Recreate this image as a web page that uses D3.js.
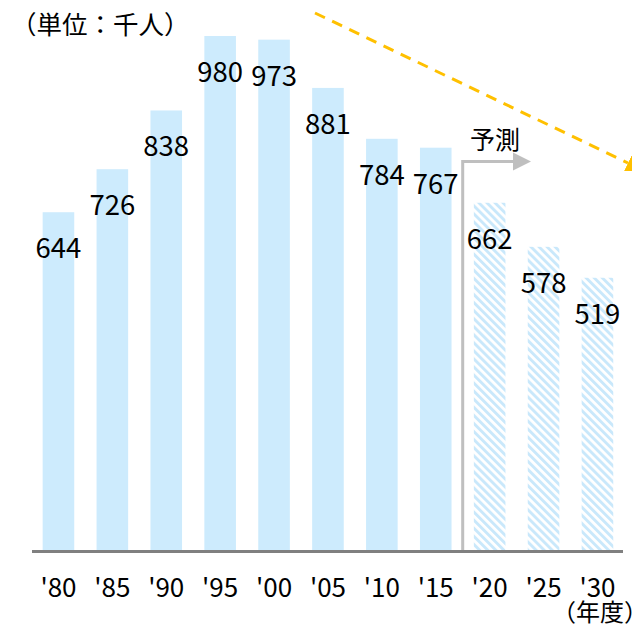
<!DOCTYPE html>
<html>
<head>
<meta charset="utf-8">
<script src="https://cdn.jsdelivr.net/npm/d3@7"></script>
<style>
  html, body { margin: 0; padding: 0; background: #fff; }
  svg { display: block; font-family: "Noto Sans CJK JP", "Noto Sans", sans-serif; }
</style>
</head>
<body>
<svg id="chart" width="632" height="626"></svg>
<script>
const categories = ["'80", "'85", "'90", "'95", "'00", "'05", "'10", "'15", "'20", "'25", "'30"];
const values = [644, 726, 838, 980, 973, 881, 784, 767, 662, 578, 519];
const forecast = [false, false, false, false, false, false, false, false, true, true, true];
const unitLabel = "（単位：千人）";
const yearLabel = "（年度）";
const forecastLabel = "予測";

const svg = d3.select("#chart");

const x = d3.scaleBand().domain(categories).range([31.5, 624.4]).paddingInner(0.414).paddingOuter(0.207);
const y = d3.scaleLinear().domain([0, 1000]).range([550, 25.5]);

// hatch pattern
const defs = svg.append("defs");
const pat = defs.append("pattern")
  .attr("id", "hatch").attr("patternUnits", "userSpaceOnUse")
  .attr("width", 5.7).attr("height", 5.7)
  .attr("patternTransform", "rotate(-45)");
pat.append("rect").attr("width", 5.7).attr("height", 5.7).attr("fill", "#ffffff");
pat.append("rect").attr("width", 2.9).attr("height", 5.7).attr("fill", "#c9e8fb");

defs.append("marker").attr("id", "orangeHead")
  .attr("viewBox", "0 0 10 10").attr("refX", 0).attr("refY", 5)
  .attr("markerWidth", 6).attr("markerHeight", 6).attr("markerUnits", "strokeWidth")
  .attr("orient", "auto")
  .append("path").attr("d", "M0,0 L10,5 L0,10 Z").attr("fill", "#ffc000");

// bars
svg.append("g").selectAll("rect").data(categories).join("rect")
  .attr("x", d => x(d))
  .attr("y", (d, i) => y(values[i]))
  .attr("width", x.bandwidth())
  .attr("height", (d, i) => y(0) - y(values[i]))
  .attr("fill", (d, i) => forecast[i] ? "url(#hatch)" : "#cdebfd");

// axis line
const axis = d3.axisBottom(x).tickSize(0).tickPadding(0);
const gAxis = svg.append("g").attr("transform", "translate(0,551.5)").call(axis);
gAxis.select(".domain").attr("stroke", "#808080").attr("stroke-width", 3)
  .attr("d", "M32,0H623");
gAxis.selectAll(".tick text")
  .attr("y", 45.5).attr("dy", null)
  .attr("font-size", 26).attr("fill", "#000")
  .attr("font-family", "'Noto Sans CJK JP', sans-serif");

// value labels
svg.append("g").selectAll("text").data(categories).join("text")
  .attr("x", d => x(d) + x.bandwidth() / 2)
  .attr("y", (d, i) => y(values[i]) + 46)
  .attr("text-anchor", "middle")
  .attr("font-size", 27.5)
  .attr("fill", "#000")
  .text((d, i) => values[i]);

// forecast bracket arrow
const fi = forecast.indexOf(true);
const xDiv = (x(categories[fi - 1]) + x.bandwidth() + x(categories[fi])) / 2;
svg.append("path")
  .attr("d", `M${xDiv},${y(0)} V161.5 H514`)
  .attr("fill", "none").attr("stroke", "#bfbfbf").attr("stroke-width", 3);
svg.append("path")
  .attr("d", `M513,152.5 L531,161.5 L513,170.5 Z`)
  .attr("fill", "#bfbfbf");
svg.append("text").attr("x", 470).attr("y", 149)
  .attr("font-size", 25).attr("fill", "#000").text(forecastLabel);

// orange dashed trend arrow
svg.append("line")
  .attr("x1", 315).attr("y1", 13).attr("x2", 628).attr("y2", 163)
  .attr("stroke", "#ffc000").attr("stroke-width", 3)
  .attr("stroke-dasharray", "11,8")
  .attr("marker-end", "url(#orangeHead)");

// unit labels
svg.append("text").attr("x", 11).attr("y", 33.5)
  .attr("font-size", 25.5).attr("fill", "#000").text(unitLabel);
svg.append("text").attr("x", 552).attr("y", 621)
  .attr("font-size", 24).attr("fill", "#000").text(yearLabel);
</script>
</body>
</html>
